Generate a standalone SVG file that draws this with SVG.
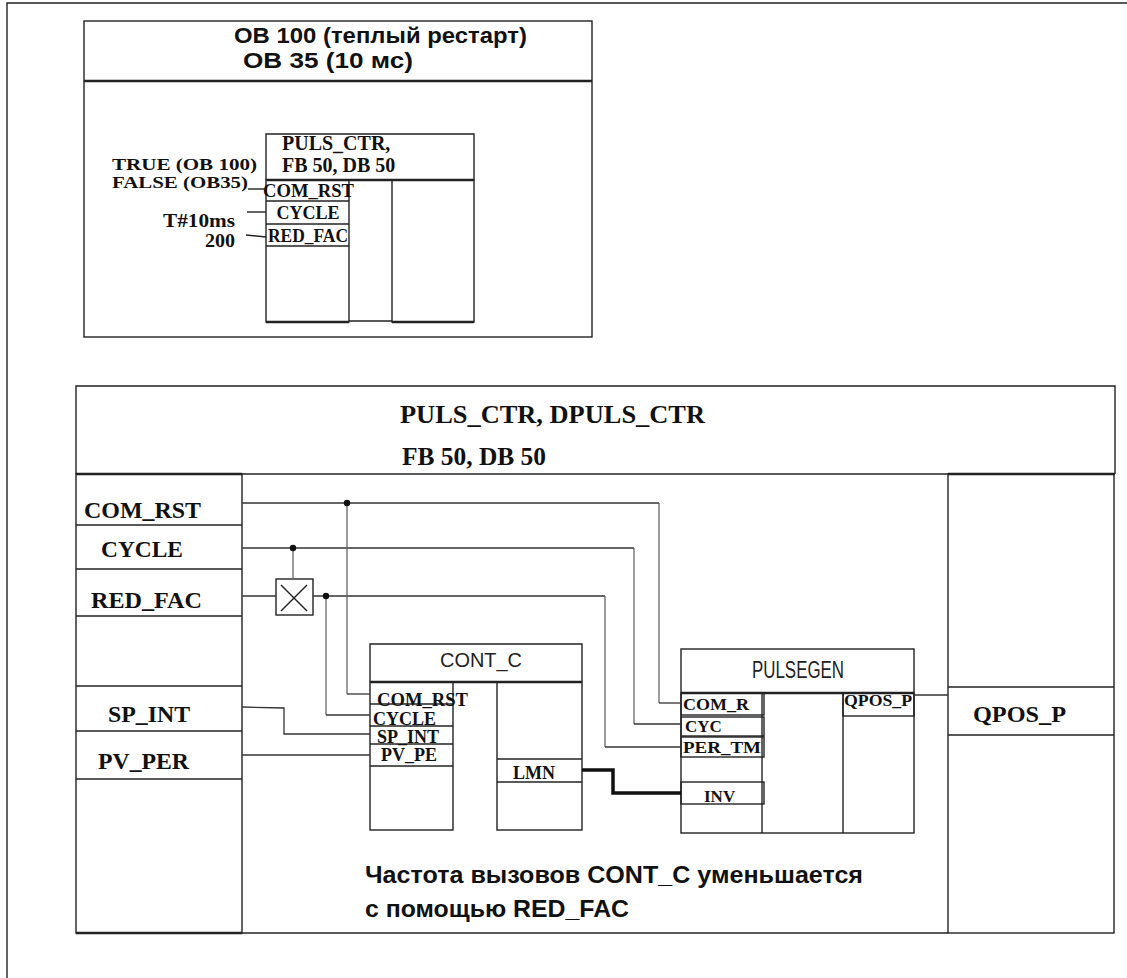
<svg xmlns="http://www.w3.org/2000/svg" width="1127" height="978" viewBox="0 0 1127 978">
<style>
.ln{fill:none;stroke:#222;stroke-width:1.4}
.th{fill:none;stroke:#222;stroke-width:2.6}
.cn{fill:none;stroke:#333;stroke-width:1.3}
.cv{fill:none;stroke:#666;stroke-width:1.3}
.tb{font-family:"Liberation Serif","Times New Roman",serif;font-weight:bold;fill:#111}
.ab{font-family:"Liberation Sans",Arial,sans-serif;font-weight:bold;fill:#111}
.as{font-family:"Liberation Sans",Arial,sans-serif;fill:#222}
</style>
<rect width="1127" height="978" fill="#fff"/>
<path class="ln" d="M7,978 V3 H1127"/>

<g id="ob-box">
<rect class="ln" x="84" y="21" width="508" height="316"/>
<line class="th" x1="84" y1="81" x2="592" y2="81" stroke-width="2"/>
<text class="ab" x="234" y="43" font-size="22" textLength="293" lengthAdjust="spacingAndGlyphs">OB 100 (теплый рестарт)</text>
<text class="ab" x="243" y="68" font-size="22" textLength="170" lengthAdjust="spacingAndGlyphs">OB 35 (10 мс)</text>
</g>

<g id="puls-ctr-small">
<path class="ln" d="M266,180 V134 H474 V180"/>
<line class="th" x1="266" y1="180" x2="474" y2="180" stroke-width="2"/>
<rect class="ln" x="266" y="180" width="83" height="142"/>
<rect class="ln" x="392" y="180" width="82" height="142"/>
<line class="th" x1="266" y1="322" x2="349" y2="322"/>
<line class="th" x1="392" y1="322" x2="474" y2="322"/>
<line class="ln" x1="349" y1="321" x2="392" y2="321"/>
<line class="ln" x1="266" y1="201" x2="349" y2="201"/>
<line class="ln" x1="266" y1="224" x2="349" y2="224"/>
<line class="ln" x1="266" y1="246" x2="349" y2="246"/>
<text class="tb" x="282" y="150" font-size="20">PULS_CTR,</text>
<text class="tb" x="282" y="172" font-size="20">FB 50, DB 50</text>
<text class="tb" x="263" y="197" font-size="18" textLength="91" lengthAdjust="spacingAndGlyphs">COM_RST</text>
<text class="tb" x="308" y="219" font-size="18" text-anchor="middle">CYCLE</text>
<text class="tb" x="268" y="242" font-size="18" textLength="80" lengthAdjust="spacingAndGlyphs">RED_FAC</text>
</g>

<g id="ob-inputs">
<text class="tb" x="112" y="170" font-size="17" textLength="145" lengthAdjust="spacingAndGlyphs">TRUE (OB 100)</text>
<text class="tb" x="112" y="188" font-size="17" textLength="136" lengthAdjust="spacingAndGlyphs">FALSE (OB35)</text>
<text class="tb" x="235" y="227" font-size="18" text-anchor="end" textLength="72" lengthAdjust="spacingAndGlyphs">T#10ms</text>
<text class="tb" x="235" y="247" font-size="18" text-anchor="end" textLength="30" lengthAdjust="spacingAndGlyphs">200</text>
<line class="ln" x1="248" y1="189" x2="266" y2="189"/>
<line class="ln" x1="247" y1="212" x2="266" y2="212"/>
<line class="ln" x1="246" y1="235" x2="266" y2="237"/>
</g>

<g id="puls-ctr-main">
<path class="ln" d="M76,474 V386 H1115 V474"/>
<line class="th" x1="76" y1="474" x2="242" y2="474" stroke-width="2"/>
<line class="ln" x1="242" y1="474" x2="948" y2="474"/>
<line class="th" x1="948" y1="474" x2="1115" y2="474" stroke-width="2"/>
<text class="tb" x="400" y="423" font-size="26" textLength="305" lengthAdjust="spacingAndGlyphs">PULS_CTR, DPULS_CTR</text>
<text class="tb" x="402" y="465" font-size="26" textLength="144" lengthAdjust="spacingAndGlyphs">FB 50, DB 50</text>
<line class="ln" x1="242" y1="933" x2="948" y2="933"/>
</g>

<g id="inputs">
<rect class="ln" x="76" y="474" width="166" height="459"/>
<line class="th" x1="76" y1="933" x2="242" y2="933" stroke-width="2"/>
<line class="ln" x1="76" y1="525" x2="242" y2="525"/>
<line class="ln" x1="76" y1="569" x2="242" y2="569"/>
<line class="ln" x1="76" y1="616" x2="242" y2="616"/>
<line class="ln" x1="76" y1="686" x2="242" y2="686"/>
<line class="ln" x1="76" y1="731" x2="242" y2="731"/>
<line class="ln" x1="76" y1="779" x2="242" y2="779"/>
<text class="tb" x="84" y="518" font-size="24" textLength="117" lengthAdjust="spacingAndGlyphs">COM_RST</text>
<text class="tb" x="101" y="557" font-size="24" textLength="82" lengthAdjust="spacingAndGlyphs">CYCLE</text>
<text class="tb" x="91" y="608" font-size="24" textLength="111" lengthAdjust="spacingAndGlyphs">RED_FAC</text>
<text class="tb" x="108" y="722" font-size="24" textLength="82" lengthAdjust="spacingAndGlyphs">SP_INT</text>
<text class="tb" x="98" y="769" font-size="24" textLength="91" lengthAdjust="spacingAndGlyphs">PV_PER</text>
</g>

<g id="outputs">
<rect class="ln" x="948" y="474" width="166" height="459"/>
<line class="ln" x1="948" y1="687" x2="1114" y2="687"/>
<line class="ln" x1="948" y1="735" x2="1114" y2="735"/>
<text class="tb" x="973" y="722" font-size="24" textLength="93" lengthAdjust="spacingAndGlyphs">QPOS_P</text>
</g>

<g id="red-fac-divider">
<rect class="ln" x="276" y="579" width="37" height="36"/>
<line class="ln" x1="281" y1="585" x2="307" y2="611" stroke-width="1"/>
<line class="ln" x1="307" y1="585" x2="281" y2="611" stroke-width="1"/>
</g>

<g id="cont-c">
<path class="ln" d="M370,682 V644 H582 V682"/>
<line class="th" x1="370" y1="682" x2="582" y2="682"/>
<rect class="ln" x="370" y="682" width="83" height="148"/>
<rect class="ln" x="497" y="682" width="85" height="148"/>
<line class="ln" x1="370" y1="704" x2="453" y2="704"/>
<line class="ln" x1="370" y1="726" x2="453" y2="726"/>
<line class="ln" x1="370" y1="744" x2="453" y2="744"/>
<line class="ln" x1="370" y1="766" x2="453" y2="766"/>
<line class="ln" x1="497" y1="759" x2="582" y2="759"/>
<line class="ln" x1="497" y1="782" x2="582" y2="782"/>
<text class="as" x="481" y="667" font-size="21" text-anchor="middle" textLength="82" lengthAdjust="spacingAndGlyphs">CONT_C</text>
<text class="tb" x="377" y="706" font-size="18" textLength="91" lengthAdjust="spacingAndGlyphs">COM_RST</text>
<text class="tb" x="373" y="725" font-size="18">CYCLE</text>
<text class="tb" x="377" y="743" font-size="18">SP_INT</text>
<text class="tb" x="381" y="761" font-size="18">PV_PE</text>
<text class="tb" x="513" y="779" font-size="18">LMN</text>
</g>

<g id="pulsegen">
<rect class="ln" x="681" y="649" width="233" height="184"/>
<line class="th" x1="681" y1="693" x2="914" y2="693"/>
<line class="ln" x1="762" y1="693" x2="762" y2="833"/>
<line class="ln" x1="843" y1="693" x2="843" y2="833"/>
<rect class="ln" x="681" y="693" width="83" height="22"/>
<rect class="ln" x="681" y="717" width="83" height="19"/>
<rect class="ln" x="681" y="737" width="83" height="20"/>
<rect class="ln" x="681" y="782" width="83" height="22"/>
<rect class="ln" x="843" y="693" width="71" height="23"/>
<text class="as" x="798" y="678" font-size="23" text-anchor="middle" textLength="92" lengthAdjust="spacingAndGlyphs">PULSEGEN</text>
<text class="tb" x="683" y="710" font-size="17" textLength="66" lengthAdjust="spacingAndGlyphs">COM_R</text>
<text class="tb" x="685" y="732" font-size="17">CYC</text>
<text class="tb" x="683" y="753" font-size="17" textLength="78" lengthAdjust="spacingAndGlyphs">PER_TM</text>
<text class="tb" x="704" y="802" font-size="17">INV</text>
<text class="tb" x="844" y="706" font-size="16" textLength="68" lengthAdjust="spacingAndGlyphs">QPOS_P</text>
</g>

<g id="connectors">
<path class="cn" d="M242,503 H659"/><path class="cv" d="M659,503 V703"/><path class="cn" d="M659,703 H681"/>
<path class="cn" d="M242,548 H634"/><path class="cv" d="M634,548 V724"/><path class="cn" d="M634,724 H681"/>
<path class="cn" d="M242,596 H276"/>
<path class="cn" d="M313,596 H605"/><path class="cv" d="M605,596 V747"/><path class="cn" d="M605,747 H681"/>
<path class="cv" d="M347,503 V694"/><path class="cn" d="M347,694 H370"/>
<path class="cv" d="M293,548 V579"/>
<path class="cv" d="M326,596 V715"/><path class="cn" d="M326,715 H370"/>
<path class="cn" d="M242,707 L284,708 V734 H370"/>
<path class="cn" d="M242,755 H370"/>
<path fill="none" stroke="#111" stroke-width="3.5" d="M582,770 H613 V793 H681"/>
<path class="cn" d="M914,695 H948"/>
<circle cx="347" cy="503" r="3.2" fill="#111"/>
<circle cx="293" cy="548" r="3.2" fill="#111"/>
<circle cx="326" cy="596" r="3.2" fill="#111"/>
</g>

<g id="note">
<text class="ab" x="365" y="883" font-size="24" textLength="498" lengthAdjust="spacingAndGlyphs">Частота вызовов CONT_C уменьшается</text>
<text class="ab" x="365" y="917" font-size="24" textLength="264" lengthAdjust="spacingAndGlyphs">с помощью RED_FAC</text>
</g>
</svg>
